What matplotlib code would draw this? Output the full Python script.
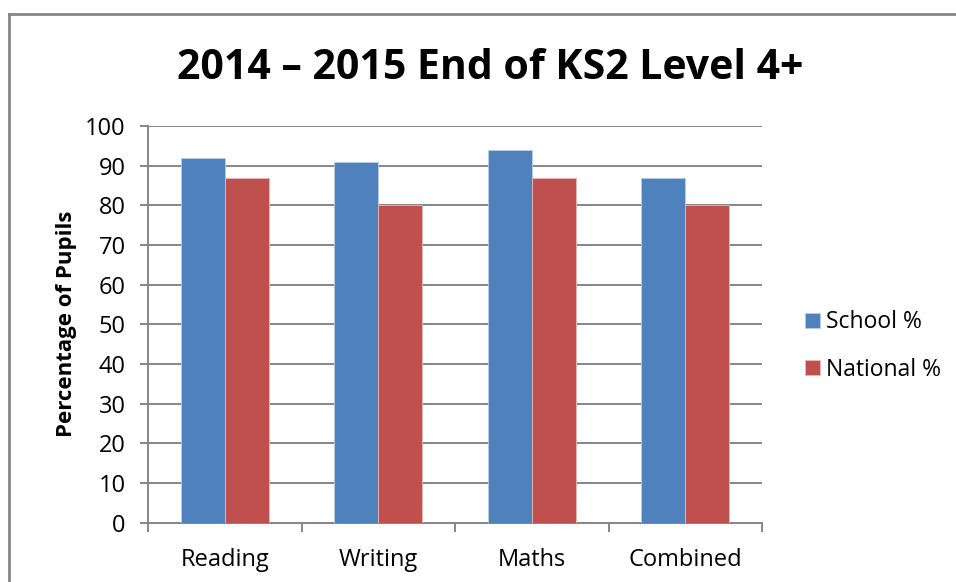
import matplotlib
matplotlib.use("Agg")
import matplotlib.pyplot as plt
from matplotlib.lines import Line2D
import numpy as np

categories = ["Reading", "Writing", "Maths", "Combined"]
school_pct = [92, 91, 94, 87]
national_pct = [87, 80, 87, 80]
series_names = ["School %", "National %"]
y_ticks = [0, 10, 20, 30, 40, 50, 60, 70, 80, 90, 100]

BLUE = "#4F81BD"
RED = "#C0504D"
GRID = "#868686"

plt.rcParams["font.family"] = ["Open Sans", "DejaVu Sans"]

W, H = 956, 582
fig = plt.figure(figsize=(W / 100, H / 100), dpi=100)
ax = fig.add_axes([148 / W, 1 - 522.5 / H, (762 - 148) / W, (522.5 - 126) / H])

x = np.arange(len(categories))
w = 2 / 7  # two bars plus a 150% gap per category
ax.bar(x - w / 2, school_pct, w, color=BLUE, edgecolor="#B9CDE5", linewidth=0.6,
       label=series_names[0], zorder=3)
ax.bar(x + w / 2, national_pct, w, color=RED, edgecolor="#E6B9B8", linewidth=0.6,
       label=series_names[1], zorder=3)

ax.set_xlim(-0.5, len(categories) - 0.5)
ax.set_ylim(0, 100)
ax.set_yticks(y_ticks)
ax.set_yticklabels([str(v) for v in y_ticks], fontsize=17)
ax.yaxis.grid(True, color=GRID, linewidth=1.4, zorder=0)
ax.set_axisbelow(True)

# category labels centred, tick marks on the category boundaries
ax.set_xticks(np.arange(-0.5, len(categories), 1.0))
ax.set_xticklabels([""] * (len(categories) + 1))
ax.set_xticks(x, minor=True)
ax.set_xticklabels(categories, minor=True, fontsize=17)
ax.tick_params(axis="x", which="minor", length=0, pad=18)
ax.tick_params(axis="x", which="major", length=6.5, width=1.4, color=GRID, direction="out")
ax.tick_params(axis="y", length=6, width=1.4, color=GRID, direction="out", pad=10)

for side in ("top", "right"):
    ax.spines[side].set_visible(False)
for side in ("left", "bottom"):
    ax.spines[side].set_color(GRID)
    ax.spines[side].set_linewidth(1.4)

ax.set_ylabel("Percentage of Pupils", fontsize=16, fontweight="bold", labelpad=6)

fig.text(490 / W, 1 - 79 / H, "2014 \u2013 2015 End of KS2 Level 4+",
         ha="center", va="baseline", fontsize=29.5, fontweight="bold")

leg = fig.legend(loc="center left", bbox_to_anchor=(784 / W, 1 - 346 / H),
                 frameon=False, fontsize=16.5, handlelength=0.65, handleheight=0.65,
                 handletextpad=0.3, labelspacing=1.02)

# outer chart border
fig.add_artist(Line2D([9 / W, 9 / W], [0, 1 - 14 / H], transform=fig.transFigure,
                      color=GRID, linewidth=2))
fig.add_artist(Line2D([9 / W, 1], [1 - 14 / H, 1 - 14 / H], transform=fig.transFigure,
                      color=GRID, linewidth=2))

fig.savefig("out.png", dpi=100)
